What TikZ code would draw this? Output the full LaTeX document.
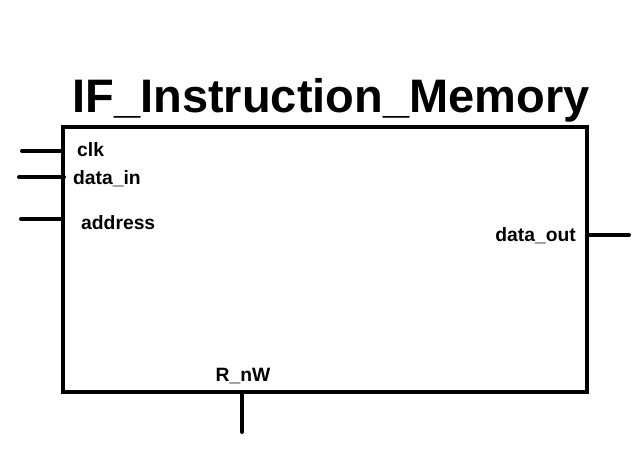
\documentclass[tikz,border=0pt]{standalone}
\usepackage{fontspec}
\setmainfont{Liberation Sans}
\usetikzlibrary{positioning}
\begin{document}
\begin{tikzpicture}[x=1pt, y=-1pt]
    \tikzstyle{block} = [draw, rectangle, line width=4pt, minimum width=524pt, minimum height=265pt, inner sep=0pt];
    \tikzstyle{wire} = [line width=4pt, line cap=round];
    \tikzstyle{port} = [font=\fontsize{19.3}{21}\selectfont\bfseries, inner sep=0pt];
    \useasboundingbox (0,0) rectangle (638,462);
    \node [block] (mem) at (325,259.5) {};
    \node [font=\fontsize{47}{50}\selectfont\bfseries, anchor=base, inner sep=0pt] (title) at (331,113) {IF\_Instruction\_Memory};
    % port labels
    \node [port, anchor=base west] (clk) at (77,157) {clk};
    \node [port, anchor=base west] (din) at (73,185) {data\_in};
    \node [port, anchor=base west] (addr) at (81,230) {address};
    \node [port, anchor=base east] (dout) at (576,241.5) {data\_out};
    \node [port, anchor=base] (rnw) at (243,382) {R\_nW};
    % wire ends
    \coordinate (clkend) at (22,151);
    \coordinate (dinend) at (19,177);
    \coordinate (dintip) at (64,177);
    \coordinate (addrend) at (21,219);
    \coordinate (doutend) at (629,235);
    \coordinate (rnwend) at (242,432);
    \draw [wire] (clkend) -- (clkend -| mem.west);
    \draw [wire] (dinend) -- (dintip);
    \draw [wire] (addrend) -- (addrend -| mem.west);
    \draw [wire] (doutend -| mem.east) -- (doutend);
    \draw [wire] (rnwend |- mem.south) -- (rnwend);
\end{tikzpicture}
\end{document}
